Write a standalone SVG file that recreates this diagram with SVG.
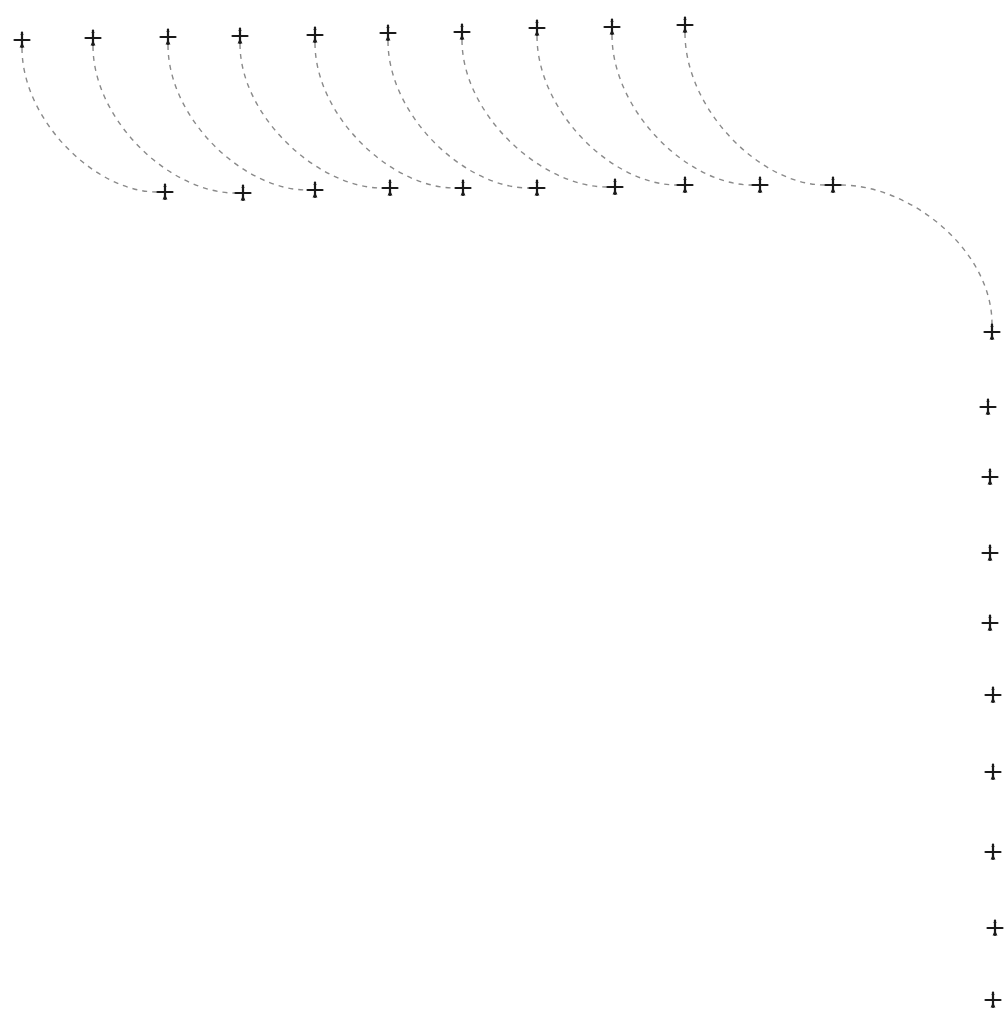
<svg xmlns="http://www.w3.org/2000/svg" width="1005" height="1015" viewBox="0 0 1005 1015">
<style>
.edge{fill:none;stroke:#8a8a8a;stroke-width:1.4;stroke-dasharray:5 5}
.arm{stroke:#1a1a1a;stroke-width:2.2;stroke-linecap:round}
.tip{fill:#1a1a1a}
</style>
<defs>
<symbol id="star" viewBox="-9 -9 18 18" overflow="visible">
<line class="arm" x1="-7.5" y1="0" x2="7.5" y2="0"/>
<line class="arm" x1="0" y1="-7.5" x2="0" y2="7"/>
<path class="tip" d="M0,2 L-2.4,7.5 L2.4,7.5 Z M0,-8.5 L-1.6,-5 L1.6,-5 Z"/>
</symbol>
</defs>
<rect width="1005" height="1015" fill="#fff"/>
<g id="connectors">
<path class="edge" d="M22,48 C22,120 95,192 157,192"/>
<path class="edge" d="M93,46 C93,120 170,193 235,193"/>
<path class="edge" d="M168,45 C168,118 243,190 307,190"/>
<path class="edge" d="M240,44 C240,116 318,188 382,188"/>
<path class="edge" d="M315,43 C315,116 391,188 455,188"/>
<path class="edge" d="M388,41 C388,115 464,188 529,188"/>
<path class="edge" d="M462,40 C462,114 541,187 607,187"/>
<path class="edge" d="M537,36 C537,111 612,185 677,185"/>
<path class="edge" d="M612,35 C612,110 687,185 752,185"/>
<path class="edge" d="M685,33 C685,109 760,185 825,185"/>
<path class="edge" d="M841,185 C910,185 992,250 992,324"/>
</g>
<g id="n1"><use href="#star" x="13" y="31" width="18" height="18"/></g>
<g id="n2"><use href="#star" x="84" y="29" width="18" height="18"/></g>
<g id="n3"><use href="#star" x="159" y="28" width="18" height="18"/></g>
<g id="n4"><use href="#star" x="231" y="27" width="18" height="18"/></g>
<g id="n5"><use href="#star" x="306" y="26" width="18" height="18"/></g>
<g id="n6"><use href="#star" x="379" y="24" width="18" height="18"/></g>
<g id="n7"><use href="#star" x="453" y="23" width="18" height="18"/></g>
<g id="n8"><use href="#star" x="528" y="19" width="18" height="18"/></g>
<g id="n9"><use href="#star" x="603" y="18" width="18" height="18"/></g>
<g id="n10"><use href="#star" x="676" y="16" width="18" height="18"/></g>
<g id="n11"><use href="#star" x="156" y="183" width="18" height="18"/></g>
<g id="n12"><use href="#star" x="234" y="184" width="18" height="18"/></g>
<g id="n13"><use href="#star" x="306" y="181" width="18" height="18"/></g>
<g id="n14"><use href="#star" x="381" y="179" width="18" height="18"/></g>
<g id="n15"><use href="#star" x="454" y="179" width="18" height="18"/></g>
<g id="n16"><use href="#star" x="528" y="179" width="18" height="18"/></g>
<g id="n17"><use href="#star" x="606" y="178" width="18" height="18"/></g>
<g id="n18"><use href="#star" x="676" y="176" width="18" height="18"/></g>
<g id="n19"><use href="#star" x="751" y="176" width="18" height="18"/></g>
<g id="n20"><use href="#star" x="824" y="176" width="18" height="18"/></g>
<g id="n21"><use href="#star" x="983" y="323" width="18" height="18"/></g>
<g id="n22"><use href="#star" x="979" y="398" width="18" height="18"/></g>
<g id="n23"><use href="#star" x="981" y="468" width="18" height="18"/></g>
<g id="n24"><use href="#star" x="981" y="544" width="18" height="18"/></g>
<g id="n25"><use href="#star" x="981" y="614" width="18" height="18"/></g>
<g id="n26"><use href="#star" x="984" y="686" width="18" height="18"/></g>
<g id="n27"><use href="#star" x="984" y="763" width="18" height="18"/></g>
<g id="n28"><use href="#star" x="984" y="843" width="18" height="18"/></g>
<g id="n29"><use href="#star" x="986" y="919" width="18" height="18"/></g>
<g id="n30"><use href="#star" x="984" y="991" width="18" height="18"/></g>
</svg>
